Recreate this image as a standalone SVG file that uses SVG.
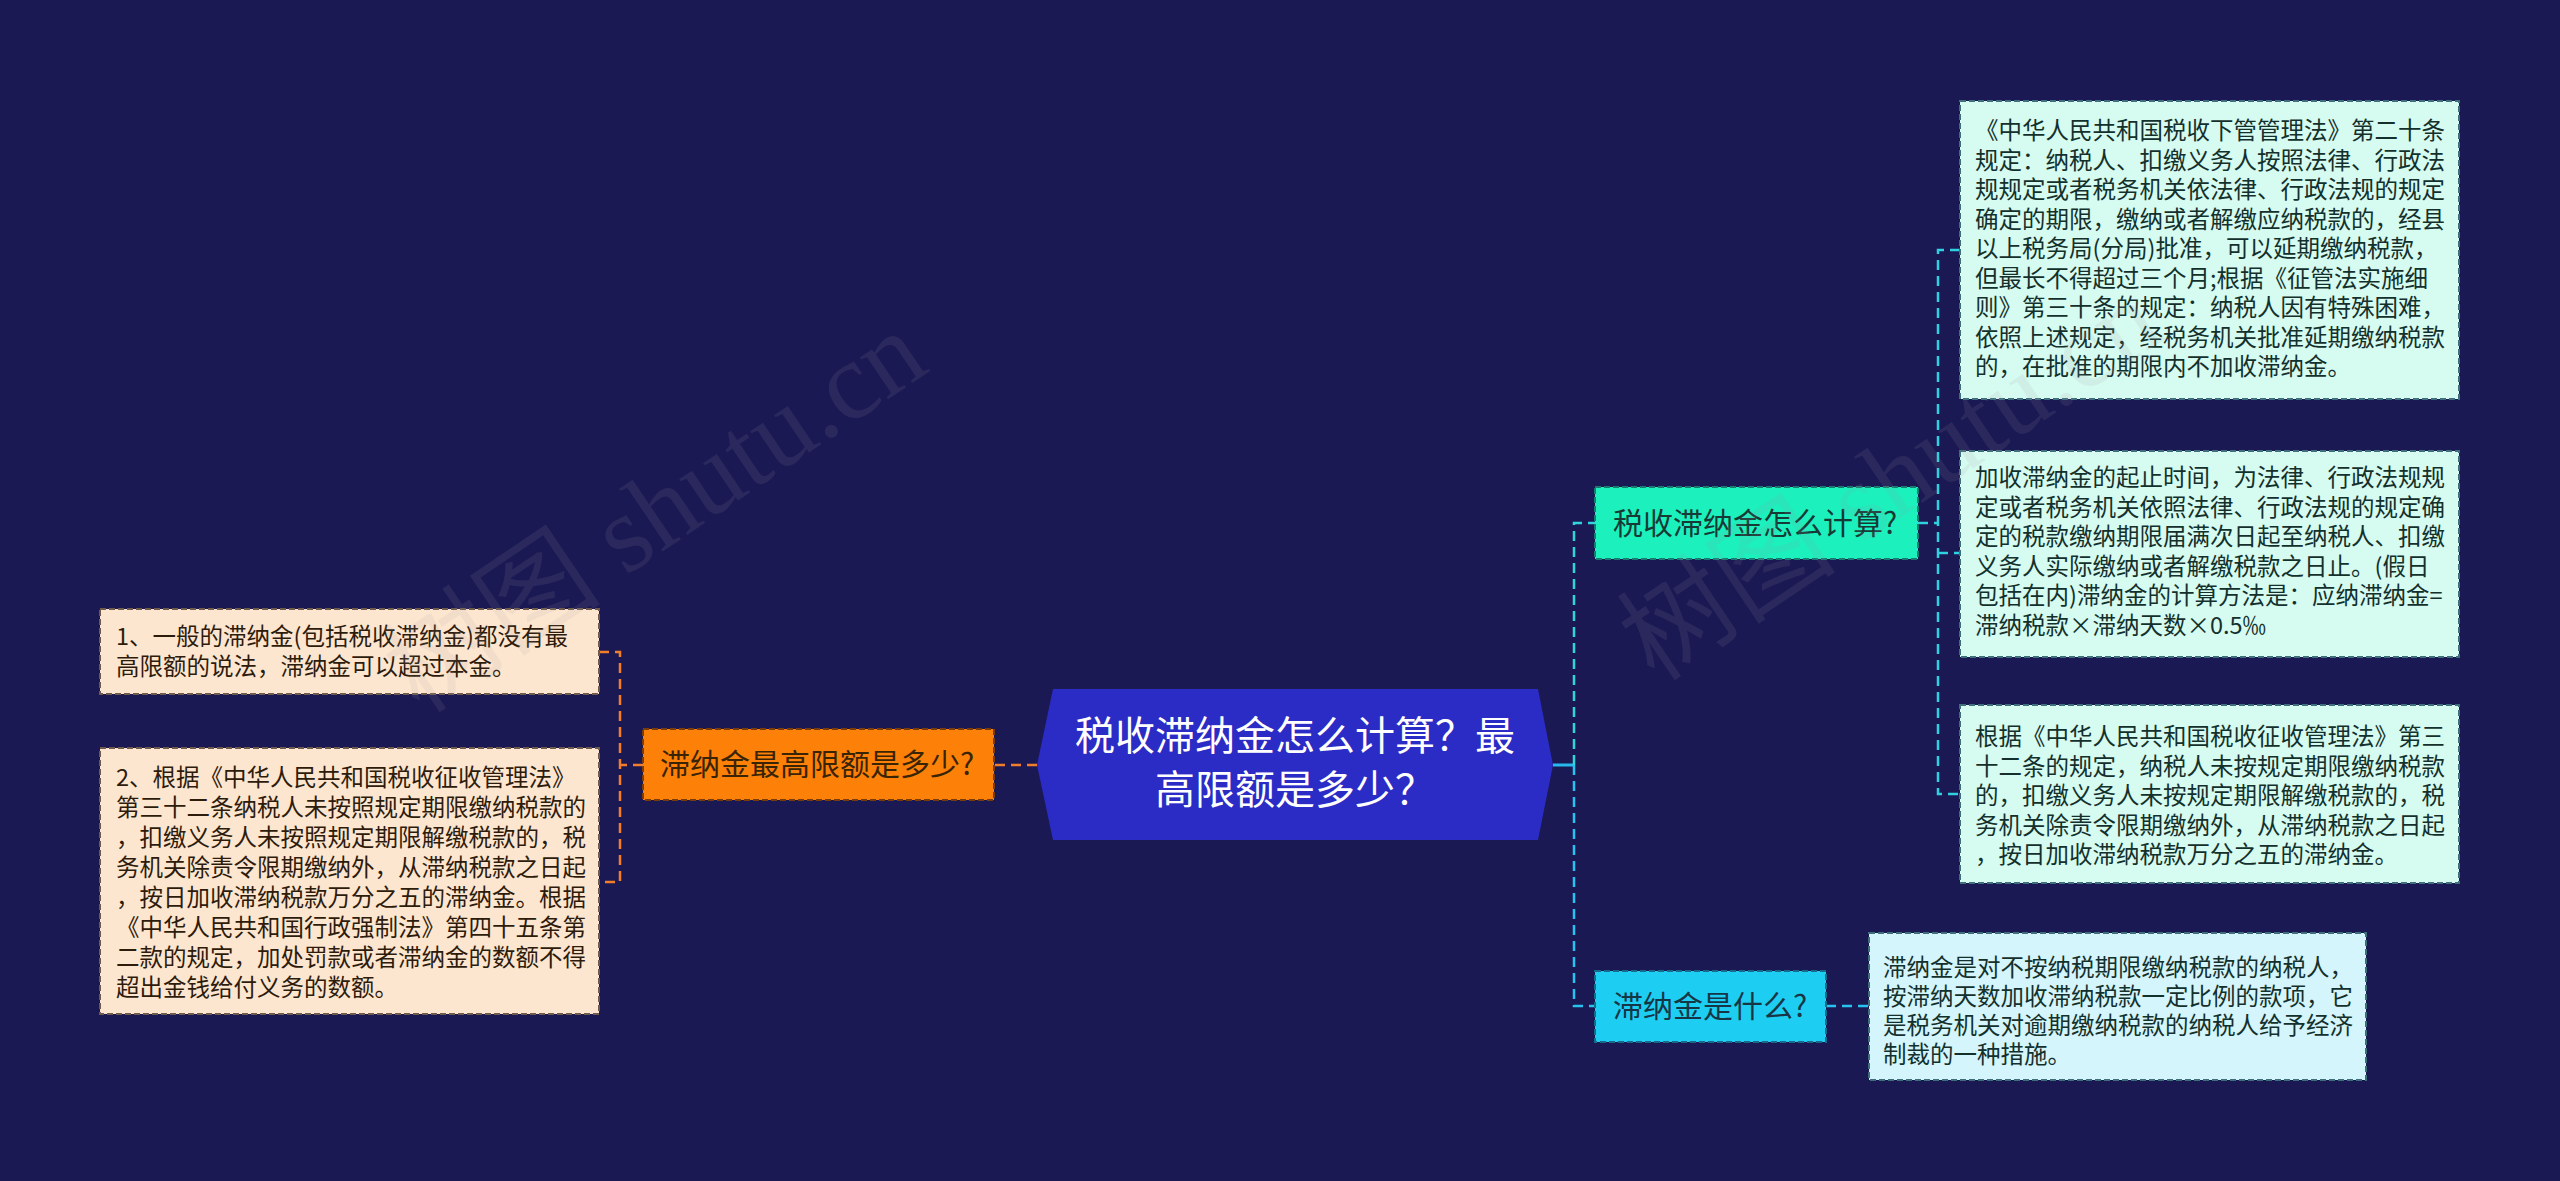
<svg xmlns="http://www.w3.org/2000/svg" width="2560" height="1181" viewBox="0 0 2560 1181">
  <defs>
    <style>
      text { font-family: "Noto Sans CJK SC", "Noto Sans", sans-serif; }
      .leaf { font-size: 23.5px; }
      .rl { fill: #d6fbf0; stroke: #3f6f7a; stroke-width: 2; stroke-dasharray: 6 3; }
      .rl4 { fill: #d3f5fb; stroke: #3f6f7a; stroke-width: 2; stroke-dasharray: 6 3; }
      .ll { fill: #fde6cf; stroke: #6f5a4c; stroke-width: 2; stroke-dasharray: 6 3; }
      .rt { fill: #13302c; }
      .lt { fill: #2d1b0c; }
      .mid { font-size: 30px; }
      .cl { fill: none; stroke-width: 2.5; stroke-dasharray: 10 6; }
      .wm { font-family: "Liberation Serif", "Noto Sans CJK SC", serif; font-size: 110px; fill: #9a9aa8; fill-opacity: 0.12; }
    </style>
  </defs>
  <rect x="0" y="0" width="2560" height="1181" fill="#1b1953"/>

  <g id="connectors">
    <path class="cl" stroke="#f07e2a" d="M1037 765 H994"/>
    <path class="cl" stroke="#f07e2a" d="M643 765 H620"/>
    <path class="cl" stroke="#f07e2a" d="M599 652 H620 V882 H599"/>
    <path fill="none" stroke="#27b9ee" stroke-width="3" d="M1553 765 H1574"/>
    <path class="cl" stroke="#2fd5da" d="M1574 765 V523 H1595"/>
    <path class="cl" stroke="#26c3ef" d="M1574 765 V1006 H1595"/>
    <path class="cl" stroke="#2fd0e0" d="M1918 523 H1938"/>
    <path class="cl" stroke="#2fd0e0" d="M1960 250 H1938 V794 H1960"/>
    <path class="cl" stroke="#2fd0e0" d="M1938 553 H1960"/>
    <path class="cl" stroke="#26c3ef" d="M1826 1006 H1869"/>
  </g>

  <g id="root">
    <polygon points="1037,765 1053,689 1538,689 1553,765 1538,840 1053,840" fill="#2b2bc5"/>
    <text x="1295" y="750" font-size="40" fill="#ffffff" text-anchor="middle">税收滞纳金怎么计算？最</text>
    <text x="1295" y="804" font-size="40" fill="#ffffff" text-anchor="middle">高限额是多少？</text>
  </g>

  <g id="n-max">
    <rect x="643" y="729" width="351" height="71" fill="#fd8008" stroke="#7a3c08" stroke-width="2" stroke-dasharray="6 3"/>
    <text class="mid" x="660" y="775" fill="#3a2406">滞纳金最高限额是多少?</text>
  </g>

  <g id="n-calc">
    <rect x="1595" y="487" width="323" height="72" fill="#1cf0bd" stroke="#1a7a70" stroke-width="2" stroke-dasharray="6 3"/>
    <text class="mid" x="1613" y="534" fill="#173a36">税收滞纳金怎么计算?</text>
  </g>

  <g id="n-what">
    <rect x="1595" y="971" width="231" height="71" fill="#1ecdf2" stroke="#176a88" stroke-width="2" stroke-dasharray="6 3"/>
    <text class="mid" x="1613" y="1017" fill="#163646">滞纳金是什么?</text>
  </g>

  <g id="leaf-l1">
    <rect class="ll" x="100" y="609" width="499" height="85"/>
    <text class="leaf lt" x="116" y="645">
      <tspan x="116">1、一般的滞纳金(包括税收滞纳金)都没有最</tspan>
      <tspan x="116" dy="30">高限额的说法，滞纳金可以超过本金。</tspan>
    </text>
  </g>

  <g id="leaf-l2">
    <rect class="ll" x="100" y="748" width="499" height="266"/>
    <text class="leaf lt" x="116" y="786">
      <tspan x="116">2、根据《中华人民共和国税收征收管理法》</tspan>
      <tspan x="116" dy="30">第三十二条纳税人未按照规定期限缴纳税款的</tspan>
      <tspan x="116" dy="30">，扣缴义务人未按照规定期限解缴税款的，税</tspan>
      <tspan x="116" dy="30">务机关除责令限期缴纳外，从滞纳税款之日起</tspan>
      <tspan x="116" dy="30">，按日加收滞纳税款万分之五的滞纳金。根据</tspan>
      <tspan x="116" dy="30">《中华人民共和国行政强制法》第四十五条第</tspan>
      <tspan x="116" dy="30">二款的规定，加处罚款或者滞纳金的数额不得</tspan>
      <tspan x="116" dy="30">超出金钱给付义务的数额。</tspan>
    </text>
  </g>

  <g id="leaf-r1">
    <rect class="rl" x="1960" y="101" width="499" height="298"/>
    <text class="leaf rt" x="1975" y="139">
      <tspan x="1975">《中华人民共和国税收下管管理法》第二十条</tspan>
      <tspan x="1975" dy="29.5">规定：纳税人、扣缴义务人按照法律、行政法</tspan>
      <tspan x="1975" dy="29.5">规规定或者税务机关依法律、行政法规的规定</tspan>
      <tspan x="1975" dy="29.5">确定的期限，缴纳或者解缴应纳税款的，经县</tspan>
      <tspan x="1975" dy="29.5">以上税务局(分局)批准，可以延期缴纳税款，</tspan>
      <tspan x="1975" dy="29.5">但最长不得超过三个月;根据《征管法实施细</tspan>
      <tspan x="1975" dy="29.5">则》第三十条的规定：纳税人因有特殊困难，</tspan>
      <tspan x="1975" dy="29.5">依照上述规定，经税务机关批准延期缴纳税款</tspan>
      <tspan x="1975" dy="29.5">的，在批准的期限内不加收滞纳金。</tspan>
    </text>
  </g>

  <g id="leaf-r2">
    <rect class="rl" x="1960" y="451" width="499" height="206"/>
    <text class="leaf rt" x="1975" y="486">
      <tspan x="1975">加收滞纳金的起止时间，为法律、行政法规规</tspan>
      <tspan x="1975" dy="29.5">定或者税务机关依照法律、行政法规的规定确</tspan>
      <tspan x="1975" dy="29.5">定的税款缴纳期限届满次日起至纳税人、扣缴</tspan>
      <tspan x="1975" dy="29.5">义务人实际缴纳或者解缴税款之日止。(假日</tspan>
      <tspan x="1975" dy="29.5">包括在内)滞纳金的计算方法是：应纳滞纳金=</tspan>
      <tspan x="1975" dy="29.5">滞纳税款×滞纳天数×0.5‰</tspan>
    </text>
  </g>

  <g id="leaf-r3">
    <rect class="rl" x="1960" y="705" width="499" height="178"/>
    <text class="leaf rt" x="1975" y="745">
      <tspan x="1975">根据《中华人民共和国税收征收管理法》第三</tspan>
      <tspan x="1975" dy="29.5">十二条的规定，纳税人未按规定期限缴纳税款</tspan>
      <tspan x="1975" dy="29.5">的，扣缴义务人未按规定期限解缴税款的，税</tspan>
      <tspan x="1975" dy="29.5">务机关除责令限期缴纳外，从滞纳税款之日起</tspan>
      <tspan x="1975" dy="29.5">，按日加收滞纳税款万分之五的滞纳金。</tspan>
    </text>
  </g>

  <g id="leaf-r4">
    <rect class="rl4" x="1869" y="933" width="497" height="147"/>
    <text class="leaf rt" x="1883" y="976" font-size="23.2">
      <tspan x="1883">滞纳金是对不按纳税期限缴纳税款的纳税人，</tspan>
      <tspan x="1883" dy="29">按滞纳天数加收滞纳税款一定比例的款项，它</tspan>
      <tspan x="1883" dy="29">是税务机关对逾期缴纳税款的纳税人给予经济</tspan>
      <tspan x="1883" dy="29">制裁的一种措施。</tspan>
    </text>
  </g>

  <g id="watermark">
    <text class="wm" x="420" y="715" transform="rotate(-34 420 715)">树图 shutu.cn</text>
    <text class="wm" x="1655" y="683" transform="rotate(-34 1655 683)">树图 shutu.cn</text>
  </g>
</svg>
